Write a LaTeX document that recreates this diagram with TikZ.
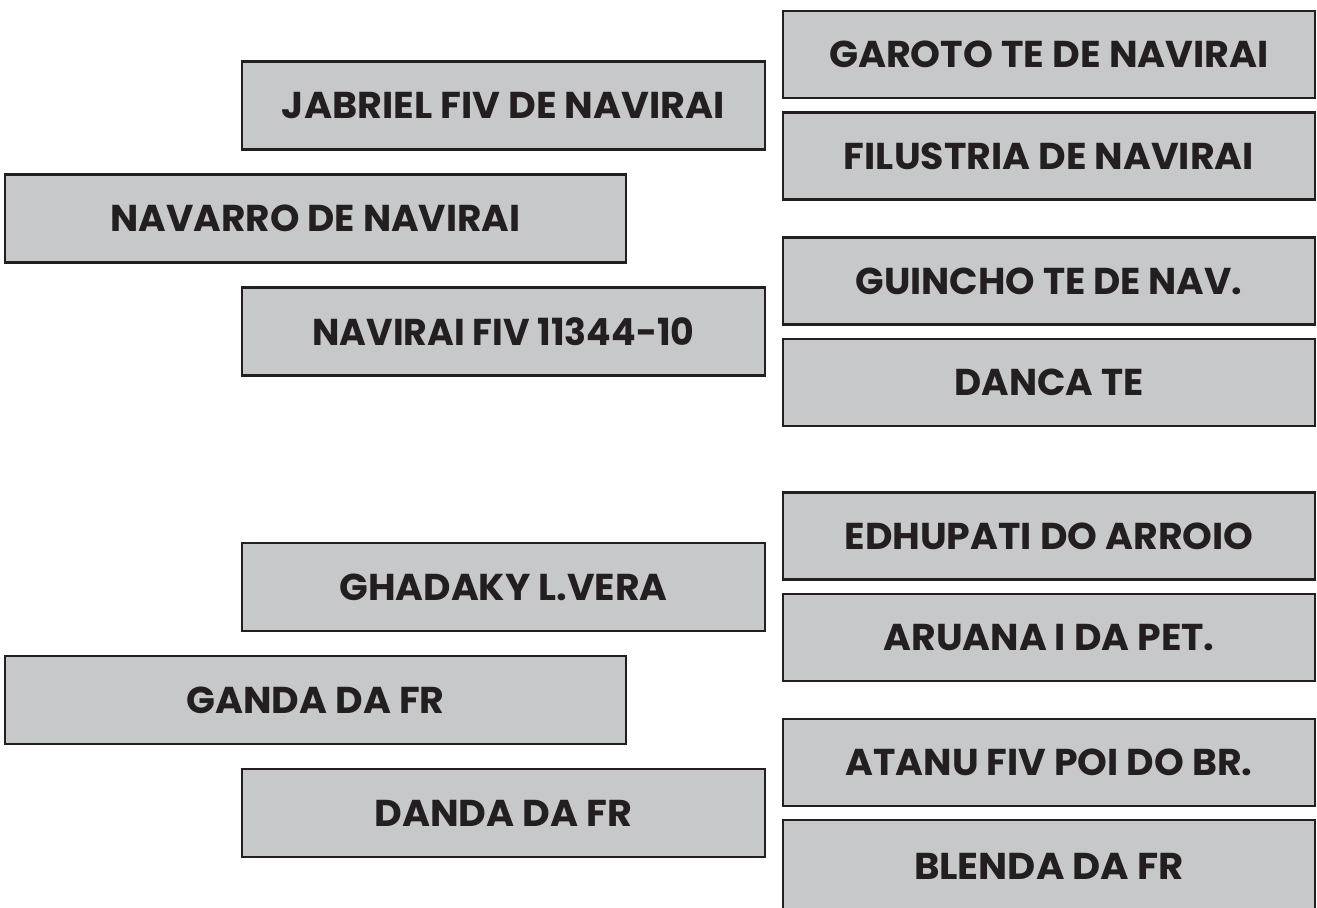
\documentclass[tikz,border=0pt]{standalone}
\usepackage{fontspec}
\setmainfont{Poppins}
\usepackage{graphicx}
\definecolor{boxfill}{HTML}{C7C8CA}
\definecolor{ink}{HTML}{231F20}
\newcommand{\lbl}[2]{\resizebox{#1bp}{\height}{\bfseries #2}}
\begin{document}
\begin{tikzpicture}[x=1bp,y=-1bp,
  box/.style={draw=ink, fill=boxfill, line width=2.2bp, inner sep=0pt, text=ink,
    font=\fontsize{37.5}{40}\selectfont, text depth=0pt},
  lefta/.style={box, minimum width=523bp, minimum height=88bp},
  leftb/.style={box, minimum width=621bp, minimum height=88bp},
  right/.style={box, minimum width=532bp, minimum height=87bp}]
\clip (0,0) rectangle (1317,907);
% upper group
\node[lefta] (jab) at (503.5,105.5) {\lbl{443}{JABRIEL FIV DE NAVIRAI}};
\node[leftb] (nav) at (315.5,218.5) {\lbl{410}{NAVARRO DE NAVIRAI}};
\node[lefta] (nvf) at (503.5,331.5) {\lbl{382}{NAVIRAI FIV 11344-10}};
\node[right] (gar) at (1049,54.5) {\lbl{440}{GAROTO TE DE NAVIRAI}};
\node[right] (fil) at (1049,156) {\lbl{410}{FILUSTRIA DE NAVIRAI}};
\node[right] (gui) at (1049,281) {\lbl{387}{GUINCHO TE DE NAV.}};
\node[right] (dan) at (1049,382.5) {\lbl{189}{DANCA TE}};
% lower group
\node[lefta] (gha) at (503.5,587) {\lbl{328}{GHADAKY L.VERA}};
\node[leftb] (gnd) at (315.5,700) {\lbl{258}{GANDA DA FR}};
\node[lefta] (dnd) at (503.5,813) {\lbl{258}{DANDA DA FR}};
\node[right] (edh) at (1049,536) {\lbl{409}{EDHUPATI DO ARROIO}};
\node[right] (aru) at (1049,637.5) {\lbl{331}{ARUANA I DA PET.}};
\node[right] (ata) at (1049,762.5) {\lbl{407}{ATANU FIV POI DO BR.}};
\node[right, minimum height=96bp] (ble) at (1049,868) {\raisebox{4bp}{\lbl{270}{BLENDA DA FR}}};
\end{tikzpicture}
\end{document}
